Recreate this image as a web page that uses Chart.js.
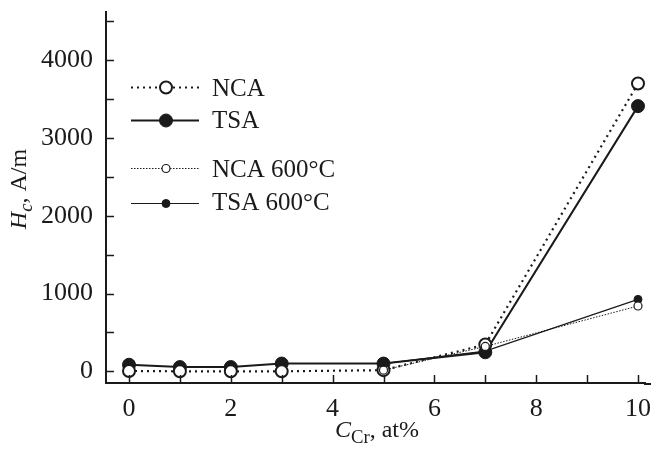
<!DOCTYPE html>
<html>
<head>
<meta charset="utf-8">
<script src="https://cdn.jsdelivr.net/npm/chart.js@4/dist/chart.umd.min.js"></script>
<style>
html,body{margin:0;padding:0;background:#fff;}
#wrap{width:653px;height:453px;position:relative;}
</style>
</head>
<body>
<div id="wrap"><canvas id="c" width="653" height="453"></canvas></div>
<script>
const xValues = [0, 1, 2, 3, 5, 7, 10];
const ncaValues = [5, 0, 0, 0, 15, 345, 3700];
const tsaValues = [85, 55, 55, 100, 100, 245, 3410];
const xValues600 = [5, 7, 10];
const nca600Values = [15, 320, 840];
const tsa600Values = [100, 260, 925];
const seriesNames = ['NCA', 'TSA', 'NCA 600°C', 'TSA 600°C'];
const xTicks = [0, 1, 2, 3, 4, 5, 6, 7, 8, 9, 10];
const xTickLabels = [0, 2, 4, 6, 8, 10];
const yTicks = [0, 500, 1000, 1500, 2000, 2500, 3000, 3500, 4000, 4500];
const yTickLabels = [0, 1000, 2000, 3000, 4000];

const INK = '#1a1a1a';
const FONT = "'Liberation Serif', 'DejaVu Serif', serif";

function pts(xs, ys) { return xs.map((x, i) => ({ x: x, y: ys[i] })); }

const styles = [
  { dash: [2, 4], width: 2.2, radius: 6, fill: '#fff', bw: 2 },
  { dash: [], width: 2, radius: 6.5, fill: INK, bw: 1 },
  { dash: [1.5, 1.5], width: 1, radius: 4, fill: '#fff', bw: 1.2 },
  { dash: [], width: 1.2, radius: 4, fill: INK, bw: 1 }
];

const datasets = [
  { label: seriesNames[2], data: pts(xValues600, nca600Values), s: styles[2] },
  { label: seriesNames[3], data: pts(xValues600, tsa600Values), s: styles[3] },
  { label: seriesNames[0], data: pts(xValues, ncaValues), s: styles[0] },
  { label: seriesNames[1], data: pts(xValues, tsaValues), s: styles[1] }
].map(d => ({
  label: d.label,
  data: d.data,
  borderColor: INK,
  borderWidth: d.s.width,
  borderDash: d.s.dash,
  pointRadius: d.s.radius,
  pointBackgroundColor: d.s.fill,
  pointBorderColor: INK,
  pointBorderWidth: d.s.bw,
  pointHoverRadius: d.s.radius,
  tension: 0,
  fill: false,
  clip: false
}));

function drawRich(ctx, segs, size) {
  let x = 0;
  segs.forEach(s => {
    const fs = s.sub ? size * 0.78 : size;
    ctx.font = (s.italic ? 'italic ' : '') + fs + 'px ' + FONT;
    const dy = s.sub ? size * 0.3 : 0;
    ctx.fillText(s.t, x, dy);
    x += ctx.measureText(s.t).width;
  });
  return x;
}
function measureRich(ctx, segs, size) {
  let x = 0;
  segs.forEach(s => {
    const fs = s.sub ? size * 0.78 : size;
    ctx.font = (s.italic ? 'italic ' : '') + fs + 'px ' + FONT;
    x += ctx.measureText(s.t).width;
  });
  return x;
}

const decor = {
  id: 'decor',
  afterDraw(chart) {
    const ctx = chart.ctx;
    const xs = chart.scales.x, ys = chart.scales.y;
    const a = chart.chartArea;
    ctx.save();
    ctx.strokeStyle = INK;
    // extend bottom axis line to the right edge as in the reference
    if (a.right < 651) {
      ctx.lineWidth = 2;
      ctx.beginPath(); ctx.moveTo(a.right - 1, a.bottom + 1); ctx.lineTo(651, a.bottom + 1); ctx.stroke();
    }
    ctx.lineWidth = 1.5;
    ys.ticks.forEach(t => {
      const p = Math.round(ys.getPixelForValue(t.value)) + 0.5;
      ctx.beginPath(); ctx.moveTo(a.left, p); ctx.lineTo(a.left + 8, p); ctx.stroke();
    });
    xs.ticks.forEach(t => {
      const p = Math.round(xs.getPixelForValue(t.value)) + 0.5;
      ctx.beginPath(); ctx.moveTo(p, a.bottom); ctx.lineTo(p, a.bottom - 8); ctx.stroke();
    });
    ctx.fillStyle = INK;
    ctx.textBaseline = 'middle';
    ctx.textAlign = 'left';
    const xt = [{ t: 'C', italic: true }, { t: 'Cr', sub: true }, { t: ', at%' }];
    const wx = measureRich(ctx, xt, 24);
    ctx.save();
    ctx.translate(377 - wx / 2, 431);
    drawRich(ctx, xt, 24);
    ctx.restore();
    const yt = [{ t: 'H', italic: true }, { t: 'c', italic: true, sub: true }, { t: ', A/m' }];
    const wy = measureRich(ctx, yt, 24);
    ctx.save();
    ctx.translate(20, 189 + wy / 2);
    ctx.rotate(-Math.PI / 2);
    drawRich(ctx, yt, 24);
    ctx.restore();
    const ly = [87, 120, 168, 203];
    const ty = [89.5, 121, 170, 203.5];
    [0, 1, 2, 3].forEach((k, i) => {
      const s = styles[k];
      const y = ly[i] + 0.5;
      ctx.save();
      ctx.strokeStyle = INK;
      ctx.lineWidth = s.width;
      ctx.setLineDash(s.dash);
      ctx.beginPath(); ctx.moveTo(131, y); ctx.lineTo(199, y); ctx.stroke();
      ctx.setLineDash([]);
      ctx.beginPath(); ctx.arc(166, y, s.radius, 0, Math.PI * 2);
      ctx.fillStyle = s.fill; ctx.fill();
      ctx.lineWidth = s.bw; ctx.stroke();
      ctx.restore();
      ctx.fillStyle = INK;
      ctx.font = '25px ' + FONT;
      ctx.fillText(seriesNames[k], 212, ty[i]);
    });
    ctx.restore();
  }
};

function zeroPad(scale) {
  scale.paddingLeft = 0; scale.paddingRight = 0;
  scale.paddingTop = 0; scale.paddingBottom = 0;
}

const chart = new Chart(document.getElementById('c'), {
  type: 'line',
  data: { datasets: datasets },
  options: {
    responsive: false,
    animation: false,
    devicePixelRatio: 1,
    layout: { padding: { left: 0, right: 2, top: 12, bottom: 0 } },
    plugins: { legend: { display: false }, tooltip: { enabled: false } },
    scales: {
      x: {
        type: 'linear',
        min: -0.452,
        max: 10.255,
        afterBuildTicks(scale) { scale.ticks = xTicks.map(v => ({ value: v })); },
        afterFit(scale) { scale.height = 70; zeroPad(scale); },
        ticks: {
          autoSkip: false,
          maxRotation: 0,
          padding: 11,
          color: INK,
          font: { family: FONT, size: 26 },
          callback: v => (xTickLabels.includes(v) ? String(v) : '')
        },
        grid: { display: false, drawTicks: false },
        border: { display: true, color: INK, width: 2 }
      },
      y: {
        type: 'linear',
        min: -150,
        max: 4620,
        afterBuildTicks(scale) { scale.ticks = yTicks.map(v => ({ value: v })); },
        afterFit(scale) { scale.width = 106; zeroPad(scale); },
        ticks: {
          autoSkip: false,
          padding: 13,
          color: INK,
          font: { family: FONT, size: 26 },
          callback: v => (yTickLabels.includes(v) ? String(v) : '')
        },
        grid: { display: false, drawTicks: false },
        border: { display: true, color: INK, width: 2 }
      }
    }
  },
  plugins: [decor]
});
let gap = 651 - chart.chartArea.right;
if (Math.abs(gap) > 0.5) {
  chart.config.options.layout = { padding: { left: 0, right: 2 - gap, top: 12, bottom: 0 } };
  chart.update();
}
gap = 651 - chart.chartArea.right;
if (Math.abs(gap) > 0.5) {
  const a = chart.chartArea;
  const xmin = -0.452;
  const ppu = (638 - a.left) / (10 - xmin);
  chart.config.options.scales.x.max = xmin + (a.right - a.left) / ppu;
  chart.update();
}
</script>
</body>
</html>
